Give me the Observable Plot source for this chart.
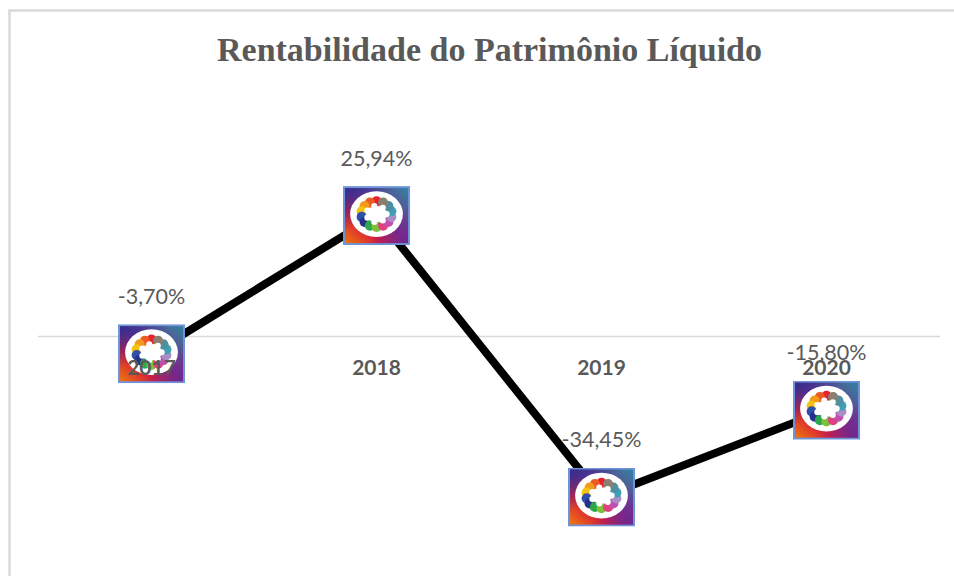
<!DOCTYPE html>
<html><head><meta charset="utf-8">
<script src="https://cdn.jsdelivr.net/npm/d3@7"></script>
<script src="https://cdn.jsdelivr.net/npm/@observablehq/plot@0.6"></script>
<style>html,body{margin:0;padding:0;background:#fff}svg{display:block}</style>
</head><body><div id="c"></div>
<script>
const years = ["2017","2018","2019","2020"];
const values = [-3.70, 25.94, -34.45, -15.80];
const labels = ["-3,70%","25,94%","-34,45%","-15,80%"];
const title = "Rentabilidade do Patrimônio Líquido";
const ringColors = ["#e5232b","#ee5a24","#f39a1c","#f5c211","#2f4fa8","#27308b","#2aa84a","#7cc03c","#e0407f","#c04fb0","#a98fc6","#3f9fb5","#4f8fa0","#8a7f70"];

const data = years.map((year,i)=>({year,value:values[i],label:labels[i]}));

function icon(){
  const n = ringColors.length;
  const cx=33, cy=27.5;
  let blobs="", scallops="";
  ringColors.forEach((c,i)=>{
    const a = -Math.PI/2 - (i/n)*2*Math.PI;
    blobs += `<circle cx='${(cx+15*Math.cos(a)).toFixed(1)}' cy='${(cy+12.5*Math.sin(a)).toFixed(1)}' r='5' fill='${c}'/>`;
    if(i%2===0){
      const b = a - Math.PI/n;
      scallops += `<circle cx='${(cx+10*Math.cos(b)).toFixed(1)}' cy='${(cy+8*Math.sin(b)).toFixed(1)}' r='3' fill='#fff'/>`;
    }
  });
  const svg = `<svg xmlns='http://www.w3.org/2000/svg' width='66' height='58' viewBox='0 0 66 58' preserveAspectRatio='none'>
<defs>
<linearGradient id='a' x1='0' y1='1' x2='1' y2='0'>
<stop offset='0' stop-color='#ef7d0a'/><stop offset='0.3' stop-color='#d81e3a'/><stop offset='0.52' stop-color='#7a2a8c'/><stop offset='1' stop-color='#2f86a0'/>
</linearGradient>
<linearGradient id='b' x1='0' y1='0' x2='1' y2='1'>
<stop offset='0' stop-color='#2b2f8f' stop-opacity='.95'/><stop offset='0.4' stop-color='#2b2f8f' stop-opacity='0'/><stop offset='0.65' stop-color='#7a1f8c' stop-opacity='0'/><stop offset='1' stop-color='#6a2a90' stop-opacity='.9'/>
</linearGradient>
</defs>
<rect x='1' y='1' width='64' height='56' fill='url(#a)' stroke='#6f93d8' stroke-width='2'/>
<rect x='2' y='2' width='62' height='54' fill='url(#b)'/>
<ellipse cx='${cx}' cy='${cy}' rx='26' ry='22.5' fill='#fff'/>
${blobs}
<ellipse cx='${cx}' cy='${cy}' rx='9' ry='7.5' fill='#fff'/>
${scallops}
</svg>`;
  return "data:image/svg+xml;charset=utf-8," + encodeURIComponent(svg);
}
const src = icon();

const plot = Plot.plot({
  width:954, height:576,
  margin:0,
  style:{background:"#fff"},
  x:{type:"point", domain:years, range:[150,827.5], padding:0, axis:null},
  y:{domain:[-51.5,72.1], range:[576,0], axis:null},
  marks:[
    Plot.frame({stroke:"#d9d9d9", strokeWidth:2.5, insetLeft:9, insetTop:10, insetRight:-10, insetBottom:-10}),
    Plot.ruleY([0],{stroke:"#d9d9d9", strokeWidth:1.5, insetLeft:38, insetRight:14}),
    Plot.line(data,{x:"year",y:"value",stroke:"#000",strokeWidth:8,curve:"linear"}),
    Plot.image(data,{x:"year",y:"value",src:()=>src,width:67,height:59,preserveAspectRatio:"none"}),
    Plot.text(data,{x:"year",y:()=>0,text:"year",dy:32,fontFamily:"Lato",fontWeight:700,fontSize:21,fill:"#595959"}),
    Plot.text(data,{x:"year",y:"value",text:"label",dy:-57,fontFamily:"Lato",fontSize:21.5,fill:"#595959"}),
    Plot.text([title],{frameAnchor:"top",dx:12,dy:50,lineAnchor:"middle",fontFamily:"Liberation Serif",fontWeight:700,fontSize:34,fill:"#595959",text:d=>d})
  ]
});
document.getElementById("c").appendChild(plot);
</script></body></html>
